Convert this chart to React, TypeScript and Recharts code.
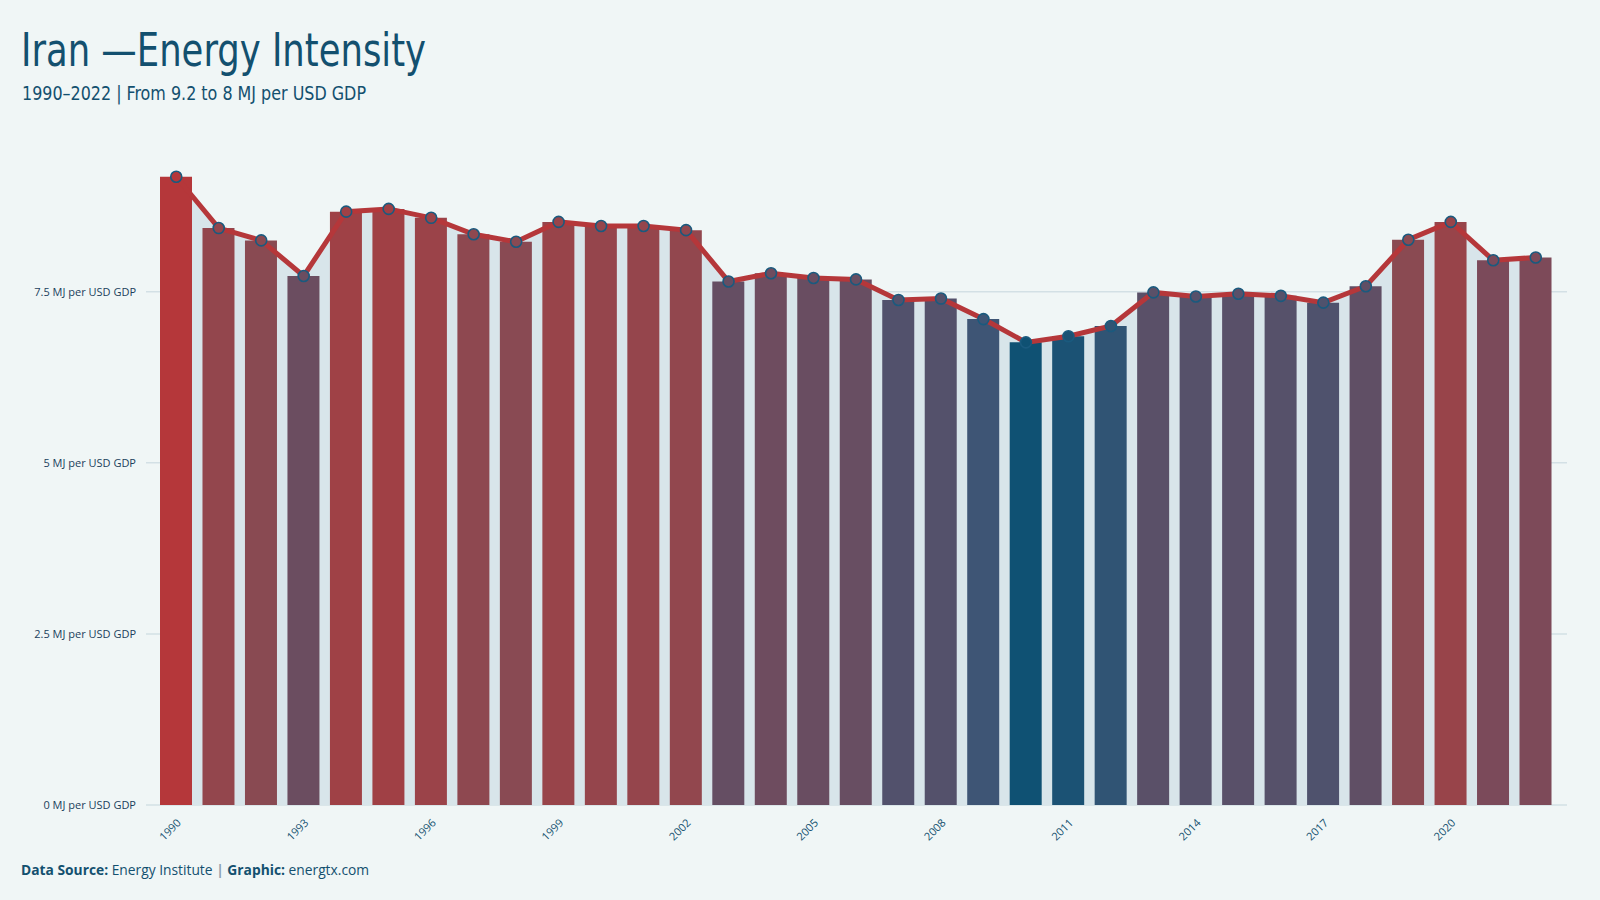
import React from "react";
import { ComposedChart, Bar, Line, Area, XAxis, YAxis, CartesianGrid, Cell } from "recharts";

const years: number[] = [
  1990, 1991, 1992, 1993, 1994, 1995, 1996, 1997, 1998, 1999, 2000,
  2001, 2002, 2003, 2004, 2005, 2006, 2007, 2008, 2009, 2010, 2011,
  2012, 2013, 2014, 2015, 2016, 2017, 2018, 2019, 2020, 2021, 2022,
];
const intensity: number[] = [
  9.18, 8.43, 8.25, 7.73, 8.67, 8.71, 8.58, 8.34, 8.23, 8.52, 8.46,
  8.46, 8.4, 7.65, 7.77, 7.7, 7.68, 7.38, 7.4, 7.1, 6.76, 6.85,
  7.0, 7.49, 7.43, 7.47, 7.44, 7.34, 7.58, 8.26, 8.52, 7.96, 8.0,
];
const yTicks: number[] = [0, 2.5, 5, 7.5];

const colorStops: [number, string][] = [
  [0, "#0f5173"],
  [0.14, "#3e5575"],
  [0.4, "#6b4d60"],
  [0.5, "#7c4a5a"],
  [0.62, "#8a4a52"],
  [0.727, "#98444a"],
  [1, "#b5373a"],
];

const hex = (h: string) => [1, 3, 5].map((i) => parseInt(h.slice(i, i + 2), 16));
const toHex = (c: number[]) =>
  "#" + c.map((v) => Math.round(v).toString(16).padStart(2, "0")).join("");

const minV = Math.min(...intensity);
const maxV = Math.max(...intensity);
function colorFor(v: number): string {
  const t = (v - minV) / (maxV - minV);
  for (let i = 0; i < colorStops.length - 1; i++) {
    const [t0, c0] = colorStops[i];
    const [t1, c1] = colorStops[i + 1];
    if (t <= t1) {
      const f = (t - t0) / (t1 - t0);
      const a = hex(c0);
      const b = hex(c1);
      return toHex(a.map((x, k) => x + (b[k] - x) * f));
    }
  }
  return colorStops[colorStops.length - 1][1];
}

const data = years.map((y, i) => ({
  year: String(y),
  value: intensity[i],
  color: colorFor(intensity[i]),
}));

const TEXT = "#13506f";
const FONT = "'Open Sans', 'Noto Sans', sans-serif";
const TITLE_FONT = "'Liberation Sans Narrow', 'DejaVu Sans Condensed', 'Open Sans', sans-serif";

const Dot = (props: any) => {
  const { cx, cy, payload } = props;
  if (cx == null || cy == null) return null;
  return <circle cx={cx} cy={cy} r={5.5} fill={payload.color} stroke="#1a5a7e" strokeWidth={1.6} />;
};

const YTick = (props: any) => {
  const { x, y, payload } = props;
  return (
    <text x={x} y={y} dy="0.35em" textAnchor="end" fill="#1b3f5c" fontSize={11} fontFamily={FONT}>
      {`${payload.value} MJ per USD GDP`}
    </text>
  );
};

const XTick = (props: any) => {
  const { x, y, payload } = props;
  return (
    <text
      x={x}
      y={y}
      dy="0.71em"
      textAnchor="end"
      fill={TEXT}
      fontSize={11}
      fontFamily={FONT}
      transform={`rotate(-45, ${x}, ${y})`}
    >
      {payload.value}
    </text>
  );
};

export default function App() {
  return (
    <div style={{ position: "relative", width: 1600, height: 900, background: "#f0f6f6" }}>
      <style>{"body{margin:0;background:#f0f6f6}"}</style>
      <ComposedChart
        width={1600}
        height={900}
        data={data}
        margin={{ top: 148, right: 33, bottom: 35, left: 10 }}
      >
        <CartesianGrid
          vertical={false}
          horizontalValues={yTicks}
          stroke="#d3e0e5"
          strokeWidth={1.5}
        />
        <XAxis
          dataKey="year"
          interval={2}
          height={60}
          padding={{ left: 9, right: 10 }}
          axisLine={false}
          tickLine={false}
          tickSize={0}
          tickMargin={13}
          tick={<XTick />}
        />
        <YAxis
          domain={[0, 9.6]}
          ticks={yTicks}
          width={136}
          axisLine={false}
          tickLine={false}
          tickSize={0}
          tickMargin={10}
          tick={<YTick />}
        />
        <Area
          type="linear"
          dataKey="value"
          fill="#d8e5ea"
          fillOpacity={1}
          stroke="none"
          isAnimationActive={false}
        />
        <Bar dataKey="value" barSize={32} isAnimationActive={false}>
          {data.map((d) => (
            <Cell key={d.year} fill={d.color} />
          ))}
        </Bar>
        <Line
          type="linear"
          dataKey="value"
          stroke="#b5373a"
          strokeWidth={5}
          dot={<Dot />}
          activeDot={false}
          isAnimationActive={false}
        />
      </ComposedChart>
      <svg
        width={1600}
        height={900}
        style={{ position: "absolute", left: 0, top: 0, pointerEvents: "none" }}
      >
        <text
          x={21}
          y={66}
          fill={TEXT}
          fontSize={46}
          fontFamily={TITLE_FONT}
          textLength={405}
          lengthAdjust="spacingAndGlyphs"
        >
          Iran —Energy Intensity
        </text>
        <text
          x={22}
          y={100}
          fill={TEXT}
          fontSize={19}
          fontFamily={TITLE_FONT}
          textLength={344}
          lengthAdjust="spacingAndGlyphs"
        >
          1990–2022 | From 9.2 to 8 MJ per USD GDP
        </text>
        <text x={21} y={875} fill={TEXT} fontSize={13.8} fontFamily={FONT}>
          <tspan fontWeight="bold">Data Source:</tspan>
          <tspan> Energy Institute </tspan>
          <tspan fill="#8aa0ad" fontWeight="bold">|</tspan>
          <tspan fontWeight="bold"> Graphic:</tspan>
          <tspan> energtx.com</tspan>
        </text>
      </svg>
    </div>
  );
}
